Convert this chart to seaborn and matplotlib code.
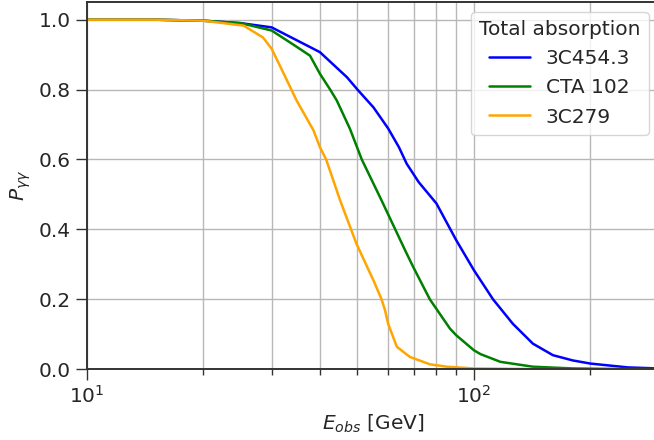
import numpy as np
import pandas as pd
import seaborn as sns
import matplotlib
matplotlib.use("Agg")
import matplotlib.pyplot as plt
from matplotlib.ticker import LogLocator, NullFormatter, MultipleLocator

# Photon survival probability vs observed energy for three blazars
sources = ["3C454.3", "CTA 102", "3C279"]
colors = ["blue", "green", "orange"]

e_3c454 = [10, 15, 20, 25, 30, 35, 40, 47, 50, 55, 60, 64, 67, 72, 80, 90,
           100, 112, 126, 142, 160, 180, 200, 250, 300]
p_3c454 = [1.0, 1.0, 0.997, 0.99, 0.978, 0.94, 0.907, 0.835, 0.80, 0.749,
           0.689, 0.635, 0.588, 0.535, 0.474, 0.369, 0.283, 0.20, 0.13,
           0.073, 0.04, 0.025, 0.016, 0.005, 0.002]

e_cta102 = [10, 15, 20, 25, 30, 34, 37.7, 40, 42.5, 44.2, 47.8, 51.3, 57.7,
            66.4, 69.7, 76.9, 86.7, 90, 100, 104, 117, 142, 180, 250, 300]
p_cta102 = [1.0, 1.0, 0.997, 0.99, 0.969, 0.93, 0.897, 0.845, 0.80, 0.769,
            0.688, 0.60, 0.483, 0.34, 0.292, 0.20, 0.116, 0.097, 0.054,
            0.043, 0.021, 0.007, 0.002, 0.0, 0.0]

e_3c279 = [10, 15, 20, 25.4, 28.5, 30, 32.1, 34.8, 38.5, 40, 41.5, 45.1,
           49.7, 53, 55, 57.7, 58.9, 60, 63.2, 68.3, 76.9, 85, 100, 150, 300]
p_3c279 = [1.0, 1.0, 0.997, 0.983, 0.949, 0.917, 0.85, 0.769, 0.683, 0.635,
           0.60, 0.483, 0.359, 0.292, 0.254, 0.20, 0.169, 0.13, 0.064, 0.035,
           0.014, 0.007, 0.002, 0.0, 0.0]

frames = []
for name, e, p in [(sources[0], e_3c454, p_3c454),
                   (sources[1], e_cta102, p_cta102),
                   (sources[2], e_3c279, p_3c279)]:
    frames.append(pd.DataFrame({"E": e, "P": p, "source": name}))
df = pd.concat(frames, ignore_index=True)

sns.set_style("ticks")
plt.rcParams["font.family"] = ["DejaVu Sans"]
plt.rcParams["mathtext.fontset"] = "dejavusans"

fig = plt.figure(figsize=(6.54, 4.4), dpi=100)
ax = fig.add_axes([0.133, 0.161, 0.874, 0.834])

sns.lineplot(data=df, x="E", y="P", hue="source", hue_order=sources,
             palette=dict(zip(sources, colors)), estimator=None, sort=True,
             linewidth=1.8, ax=ax)

ax.set_xscale("log")
ax.set_xlim(10, 300)
ax.set_ylim(0, 1.05)
ax.yaxis.set_major_locator(MultipleLocator(0.2))
ax.xaxis.set_minor_locator(LogLocator(base=10, subs=np.arange(2, 10)))
ax.xaxis.set_minor_formatter(NullFormatter())

ax.grid(True, which="both", axis="x", color="#b8b8b8", linewidth=1.0)
ax.grid(True, which="major", axis="y", color="#b8b8b8", linewidth=1.0)
ax.set_axisbelow(True)

for s in ax.spines.values():
    s.set_color("#333333")
    s.set_linewidth(1.4)

ax.tick_params(axis="both", which="major", labelsize=14.5, length=8,
               width=1.0, color="#333333")
ax.tick_params(axis="x", which="minor", length=4.5, width=1.0,
               color="#333333")

ax.set_xlabel(r"$E_{obs}$ [GeV]", fontsize=14.5)
ax.set_ylabel(r"$P_{\gamma\gamma}$", fontsize=14.5)

leg = ax.legend(title="Total absorption", loc="upper right", fontsize=14.5,
                title_fontsize=14.5, handlelength=2.0)

fig.savefig("out.png", dpi=100)
